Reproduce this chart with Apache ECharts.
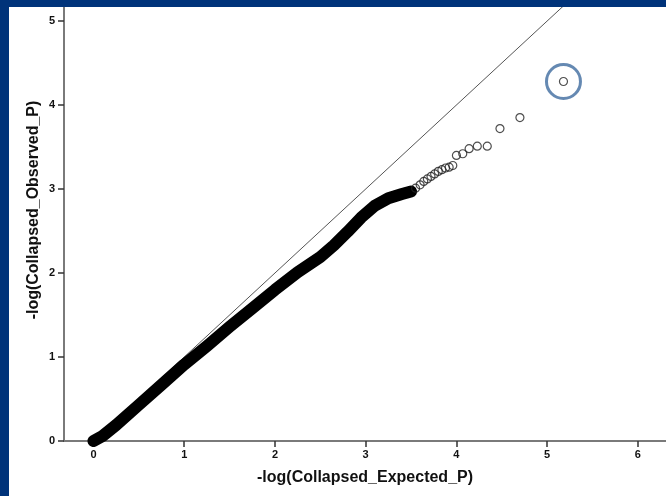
<!DOCTYPE html>
<html>
<head>
<meta charset="utf-8">
<script src="https://cdn.jsdelivr.net/npm/echarts@6/dist/echarts.min.js"></script>
<style>
html, body { margin: 0; padding: 0; }
body { width: 666px; height: 496px; background: #00337a; position: relative; overflow: hidden; }
#chart { position: absolute; left: 9px; top: 7px; width: 657px; height: 489px; background: #fff; }
</style>
</head>
<body>
<div id="chart"></div>
<script>
const xTicks = [0, 1, 2, 3, 4, 5, 6]
const yTicks = [0, 1, 2, 3, 4, 5]

// dense part of the QQ curve (overlapping points form a solid band)
const bandExpected = [0.00, 0.10, 0.25, 0.50, 0.75, 1.00, 1.25, 1.50, 1.75, 2.00, 2.25, 2.50, 2.65, 2.80, 2.95, 3.10, 3.25, 3.40, 3.50]
const bandObserved = [0.00, 0.06, 0.19, 0.43, 0.67, 0.91, 1.13, 1.36, 1.58, 1.80, 2.01, 2.19, 2.33, 2.49, 2.66, 2.80, 2.89, 2.94, 2.97]

// sparse tail, single circles
const tailExpected = [3.55, 3.60, 3.64, 3.68, 3.72, 3.76, 3.80, 3.84, 3.88, 3.92, 3.96, 4.00, 4.07, 4.14, 4.23, 4.34, 4.48, 4.70, 5.18]
const tailObserved = [3.01, 3.05, 3.09, 3.12, 3.15, 3.18, 3.21, 3.23, 3.25, 3.26, 3.28, 3.40, 3.42, 3.48, 3.51, 3.51, 3.72, 3.85, 4.28]

// highlighted point
const flagged = [[5.18, 4.28]]

// y = x reference
const refLine = [[0, 0], [6.5, 6.5]]

const zip = (a, b) => a.map((v, i) => [v, b[i]])

let myChart = echarts.init(document.getElementById('chart'))
const font = 'Liberation Sans, Arial, sans-serif'

let option = {
  animation: false,
  grid: { left: 55, top: 0, right: 0, bottom: 55 },
  xAxis: {
    type: 'value',
    min: -0.325,
    max: 6.31,
    name: '-log(Collapsed_Expected_P)',
    nameLocation: 'middle',
    nameGap: 29,
    nameMoveOverlap: false,
    nameTextStyle: { fontFamily: font, fontWeight: 'bold', fontSize: 16, color: '#111' },
    axisLine: { onZero: false, lineStyle: { color: '#7a7a7a', width: 2 } },
    axisTick: { show: true, customValues: xTicks, length: 6, lineStyle: { color: '#333', width: 1.5 } },
    axisLabel: { customValues: xTicks, fontFamily: font, fontWeight: 'bold', fontSize: 11, color: '#111', margin: 8 },
    splitLine: { show: false }
  },
  yAxis: {
    type: 'value',
    min: 0,
    max: 5.167,
    name: '-log(Collapsed_Observed_P)',
    nameLocation: 'middle',
    nameGap: 22,
    nameMoveOverlap: false,
    nameTextStyle: { fontFamily: font, fontWeight: 'bold', fontSize: 16, color: '#111', padding: [0, 0, 0, 28] },
    axisLine: { show: true, onZero: false, lineStyle: { color: '#7a7a7a', width: 2 } },
    axisTick: { show: true, customValues: yTicks, length: 6, lineStyle: { color: '#333', width: 1.5 } },
    axisLabel: { customValues: yTicks, fontFamily: font, fontWeight: 'bold', fontSize: 11, color: '#111', margin: 9 },
    splitLine: { show: false }
  },
  series: [
    {
      type: 'line',
      data: refLine,
      showSymbol: false,
      clip: true,
      lineStyle: { color: '#555', width: 1 },
      z: 1
    },
    {
      type: 'line',
      data: zip(bandExpected, bandObserved),
      showSymbol: false,
      lineStyle: { color: '#000', width: 12, cap: 'round', join: 'round' },
      z: 2
    },
    {
      type: 'scatter',
      data: zip(tailExpected, tailObserved),
      symbol: 'circle',
      symbolSize: 8,
      itemStyle: { color: 'rgba(0,0,0,0)', borderColor: '#222', borderWidth: 1.2 },
      z: 3
    },
    {
      type: 'scatter',
      data: flagged,
      symbol: 'circle',
      symbolSize: 34,
      itemStyle: { color: 'rgba(0,0,0,0)', borderColor: '#3f6b9f', borderWidth: 3 },
      z: 4
    }
  ]
}
myChart.setOption(option)
</script>
</body>
</html>
